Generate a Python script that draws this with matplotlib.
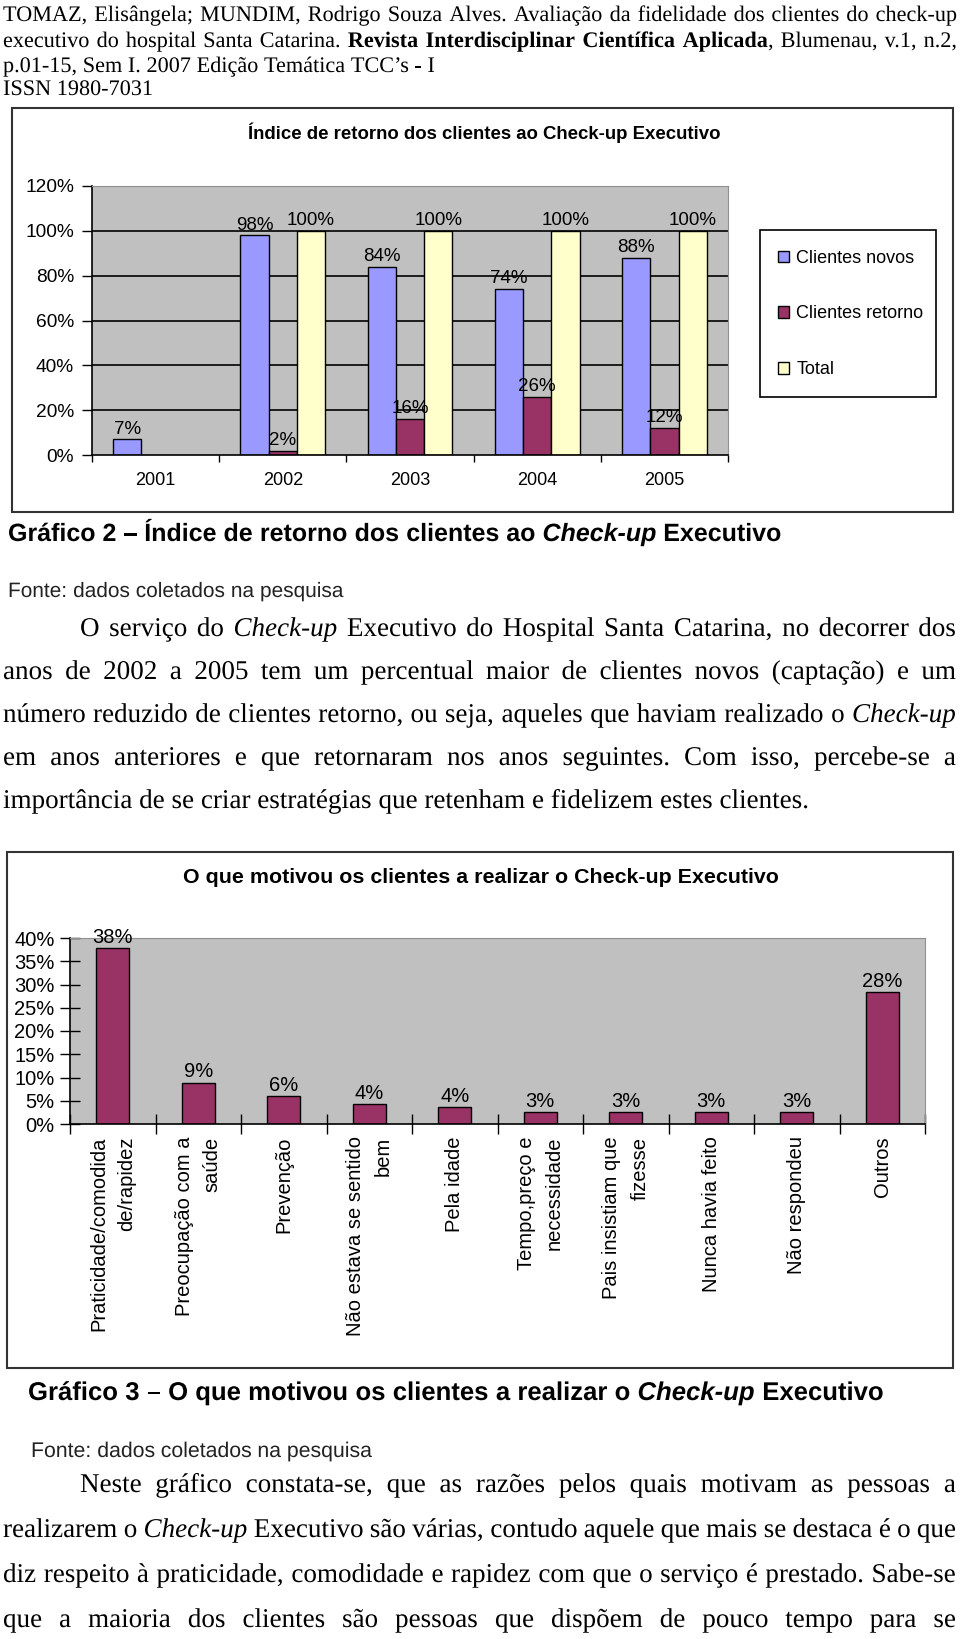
import numpy as np
import matplotlib.pyplot as plt
import matplotlib.patheffects as pe
from matplotlib.patches import Rectangle

W, H = 960, 1639

# dados do Grafico 2
anos = ['2001', '2002', '2003', '2004', '2005']
clientes_novos = [7, 98, 84, 74, 88]
clientes_retorno = [np.nan, 2, 16, 26, 12]
total = [np.nan, 100, 100, 100, 100]

# dados do Grafico 3
motivos = ['Praticidade/comodida\nde/rapidez', 'Preocupação com a\nsaúde', 'Prevenção',
           'Não estava se sentido\nbem', 'Pela idade', 'Tempo,preço e\nnecessidade',
           'Pais insistiam que\nfizesse', 'Nunca havia feito', 'Não respondeu', 'Outros']
motivos_pct = [37.8, 8.9, 6.0, 4.2, 3.6, 2.6, 2.6, 2.6, 2.6, 28.3]

cor_novos = '#9999ff'
cor_retorno = '#993366'
cor_total = '#ffffcc'
fundo = '#c0c0c0'

SERIF = 'Liberation Serif'
SANS = 'Liberation Sans'

fig = plt.figure(figsize=(W / 100, H / 100), dpi=100)
fig.patch.set_facecolor('white')
renderer = fig.canvas.get_renderer()


def fx(x):
    return x / W


def fy(y):
    return 1 - y / H


def caixa(x0, y0, x1, y1, cor='#333333', lw=1.5):
    fig.patches.append(Rectangle((fx(x0), fy(y1)), fx(x1) - fx(x0), fy(y0) - fy(y1),
                                 transform=fig.transFigure, fill=False, edgecolor=cor, lw=lw))


def estilo_kw(estilo, size, family):
    return dict(fontsize=size, family=family,
                fontweight='bold' if 'b' in estilo else 'normal',
                fontstyle='italic' if 'i' in estilo else 'normal')


def largura(s, **kw):
    t = fig.text(0, 0, s, **kw)
    w = t.get_window_extent(renderer).width
    t.remove()
    return w


def palavras_de(runs):
    palavras = [[]]
    for texto, estilo in runs:
        partes = texto.split(' ')
        for k, p in enumerate(partes):
            if k > 0:
                palavras.append([])
            if p:
                palavras[-1].append((p, estilo))
    return [w for w in palavras if w]


def linha(y, runs, x0=3, x1=None, size=18, family=SERIF, color='black'):
    # x1 -> linha justificada entre x0 e x1
    palavras = palavras_de(runs)
    larg = []
    for w in palavras:
        larg.append([largura(p, **estilo_kw(e, size, family)) for p, e in w])
    if x1 is None or len(palavras) < 2:
        gap = largura('a a', fontsize=size, family=family) - 2 * largura('a', fontsize=size, family=family)
    else:
        gap = (x1 - x0 - sum(sum(l) for l in larg)) / (len(palavras) - 1)
    x = x0
    for w, l in zip(palavras, larg):
        for (p, e), lp in zip(w, l):
            # desenhado como contorno para todas as palavras ficarem na mesma linha de base
            fig.text(fx(x), fy(y), p, va='baseline', ha='left', color=color,
                     path_effects=[pe.Normal()], **estilo_kw(e, size, family))
            x += lp
        x += gap


# cabecalho
linha(21, [('TOMAZ, Elisângela; MUNDIM, Rodrigo Souza Alves. Avaliação da fidelidade dos clientes do check-up', 'n')],
      x1=957, size=16)
linha(47, [('executivo do hospital Santa Catarina. ', 'n'), ('Revista Interdisciplinar Científica Aplicada', 'b'),
           (', Blumenau, v.1, n.2,', 'n')], x1=957, size=16)
linha(72, [('p.01-15, Sem I. 2007 Edição Temática TCC’s - I', 'n')], size=16)
linha(95, [('ISSN 1980-7031', 'n')], size=16)

# ---------------- Grafico 2 ----------------
caixa(12, 108, 953, 512)
fig.text(fx(484), fy(139), 'Índice de retorno dos clientes ao Check-up Executivo', ha='center', va='baseline',
         fontsize=13.4, fontweight='bold', family=SANS)

ax1 = fig.add_axes([fx(92), fy(455), fx(728) - fx(92), fy(186) - fy(455)])
ax1.set_facecolor(fundo)
x = np.arange(len(anos))
w = 0.222
b1 = ax1.bar(x - w, clientes_novos, w, color=cor_novos, edgecolor='black', lw=1, label='Clientes novos')
b2 = ax1.bar(x, clientes_retorno, w, color=cor_retorno, edgecolor='black', lw=1, label='Clientes retorno')
b3 = ax1.bar(x + w, total, w, color=cor_total, edgecolor='black', lw=1, label='Total')
for off, serie in [(-w, clientes_novos), (0, clientes_retorno), (w, total)]:
    for xi, v in zip(x, serie):
        if not np.isnan(v):
            ax1.text(xi + off, v + 0.8, f'{v:.0f}%', ha='center', va='bottom', fontsize=13.5, family=SANS)
ax1.set_xlim(-0.5, len(anos) - 0.5)
ax1.set_ylim(0, 120)
ax1.set_yticks(np.arange(0, 121, 20))
ax1.set_yticklabels([f'{v}%' for v in range(0, 121, 20)], family=SANS, fontsize=13.8)
ax1.set_xticks(np.arange(len(anos) + 1) - 0.5)
ax1.set_xticklabels([])
ax1.set_xticks(x, anos, minor=True)
for t in ax1.get_xticklabels(minor=True):
    t.set_fontfamily(SANS)
    t.set_fontsize(13)
ax1.tick_params(axis='x', which='major', direction='out', length=5, width=1)
ax1.tick_params(axis='x', which='minor', length=0, pad=12)
ax1.tick_params(axis='y', direction='out', length=7, width=1, pad=6)
ax1.set_axisbelow(True)
ax1.yaxis.grid(True, color='black', lw=1.2)
gl = ax1.get_ygridlines()
gl[0].set_visible(False)
gl[-1].set_visible(False)
for s in ['top', 'right']:
    ax1.spines[s].set_color('#909090')
    ax1.spines[s].set_linewidth(0.8)
for s in ['left', 'bottom']:
    ax1.spines[s].set_linewidth(1.2)

# legenda: moldura desenhada a parte
caixa(760, 230, 936, 397, cor='black', lw=1.2)
fig.legend(handles=[b1, b2, b3], loc='center', bbox_to_anchor=(fx(851), fy(314)),
           prop={'family': SANS, 'size': 13}, frameon=False,
           labelspacing=2.15, handlelength=0.6, handleheight=0.6,
           handletextpad=0.4, borderpad=0, borderaxespad=0)

linha(541, [('Gráfico 2 – Índice de retorno dos clientes ao ', 'b'), ('Check-up', 'bi'), (' Executivo', 'b')],
      x0=8, size=18, family=SANS)
linha(597, [('Fonte: dados coletados na pesquisa', 'n')], x0=8, size=15, family=SANS, color='#222222')

corpo1 = [
    [('O serviço do ', 'n'), ('Check-up', 'i'), (' Executivo do Hospital Santa Catarina, no decorrer dos', 'n')],
    [('anos de 2002 a 2005 tem um percentual maior de clientes novos (captação) e um', 'n')],
    [('número reduzido de clientes retorno, ou seja, aqueles que haviam realizado o ', 'n'), ('Check-up', 'i')],
    [('em anos anteriores e que retornaram nos anos seguintes. Com isso, percebe-se a', 'n')],
    [('importância de se criar estratégias que retenham e fidelizem estes clientes.', 'n')],
]
for k, (yb, runs) in enumerate(zip([636, 679, 722, 765, 808], corpo1)):
    linha(yb, runs, x0=80 if k == 0 else 3, x1=None if k == len(corpo1) - 1 else 956, size=19.5)

# ---------------- Grafico 3 ----------------
caixa(7, 852, 953, 1368)
fig.text(fx(481), fy(883), 'O que motivou os clientes a realizar o Check-up Executivo', ha='center',
         va='baseline', fontsize=15.4, fontweight='bold', family=SANS)

ax2 = fig.add_axes([fx(70), fy(1124), fx(925) - fx(70), fy(938) - fy(1124)])
ax2.set_facecolor(fundo)
x2 = np.arange(len(motivos))
ax2.bar(x2, motivos_pct, 0.39, color=cor_retorno, edgecolor='black', lw=1)
for xi, v in zip(x2, motivos_pct):
    ax2.text(xi, v + 0.3, f'{v:.0f}%', ha='center', va='bottom', fontsize=14.5, family=SANS)
ax2.set_xlim(-0.5, len(motivos) - 0.5)
ax2.set_ylim(0, 40)
ax2.set_yticks(np.arange(0, 41, 5))
ax2.set_yticklabels([f'{v}%' for v in range(0, 41, 5)], family=SANS, fontsize=14.5)
ax2.set_xticks(np.arange(len(motivos) + 1) - 0.5)
ax2.set_xticklabels([])
ax2.set_xticks(x2, motivos, minor=True)
for t in ax2.get_xticklabels(minor=True):
    t.set_fontfamily(SANS)
    t.set_fontsize(14.5)
    t.set_rotation(90)
    t.set_va('top')
    t.set_ha('center')
    t.set_multialignment('right')
    t.set_linespacing(1.6)
ax2.tick_params(axis='x', which='major', direction='inout', length=14, width=1)
ax2.tick_params(axis='x', which='minor', length=0, pad=9)
ax2.tick_params(axis='y', direction='inout', length=14, width=1, pad=4)
for s in ['top', 'right']:
    ax2.spines[s].set_color('#909090')
    ax2.spines[s].set_linewidth(0.8)
for s in ['left', 'bottom']:
    ax2.spines[s].set_linewidth(1.2)

linha(1400, [('Gráfico 3 – O que motivou os clientes a realizar o ', 'b'), ('Check-up', 'bi'), (' Executivo', 'b')],
      x0=28, size=18.5, family=SANS)
linha(1457, [('Fonte: dados coletados na pesquisa', 'n')], x0=31, size=15.3, family=SANS, color='#222222')

corpo2 = [
    [('Neste gráfico constata-se, que as razões pelos quais motivam as pessoas a', 'n')],
    [('realizarem o ', 'n'), ('Check-up', 'i'), (' Executivo são várias, contudo aquele que mais se destaca é o que', 'n')],
    [('diz respeito à praticidade, comodidade e rapidez com que o serviço é prestado. Sabe-se', 'n')],
    [('que a maioria dos clientes são pessoas que dispõem de pouco tempo para se', 'n')],
]
for k, (yb, runs) in enumerate(zip([1492, 1537, 1582, 1627], corpo2)):
    linha(yb, runs, x0=80 if k == 0 else 3, x1=956, size=19.5)

fig.savefig('out.png', dpi=100)
